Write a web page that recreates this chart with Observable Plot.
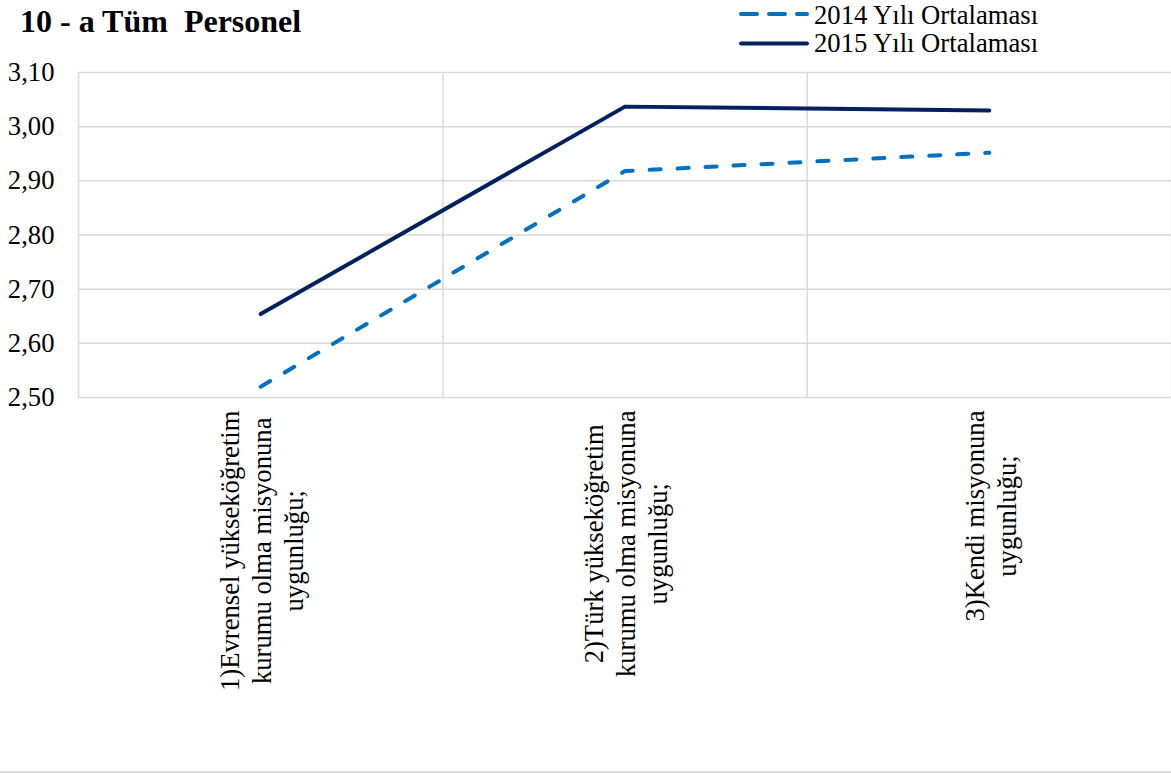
<!DOCTYPE html>
<html><head><meta charset="utf-8">
<script src="https://cdn.jsdelivr.net/npm/d3@7"></script>
<script src="https://cdn.jsdelivr.net/npm/@observablehq/plot@0.6"></script>
<style>
body{margin:0;background:#fff;}
#wrap{position:relative;width:1171px;height:773px;overflow:hidden;font-family:"Liberation Serif","Times New Roman",serif;}
#chart{position:absolute;left:0;top:0;}
#title{position:absolute;left:20px;top:-1px;font-weight:bold;font-size:32px;white-space:pre;line-height:44px;color:#000;}
#legend{position:absolute;left:0;top:0;}
#border{position:absolute;left:0;right:0;top:771px;height:2px;background:#d9d9d9;}
</style></head>
<body><div id="wrap"><div id="chart"></div><div id="title"></div><svg id="legend" width="1171" height="60"></svg><div id="border"></div></div>
<script>
const titleText = "10 - a Tüm  Personel";
const categories = [
  "1)Evrensel yükseköğretim\nkurumu olma misyonuna\nuygunluğu;",
  "2)Türk yükseköğretim\nkurumu olma misyonuna\nuygunluğu;",
  "3)Kendi misyonuna\nuygunluğu;"
];
const series = ["2014 Yılı Ortalaması", "2015 Yılı Ortalaması"];
const values2014 = [2.520, 2.918, 2.952];
const values2015 = [2.654, 3.037, 3.030];
const yTicks = [2.5, 2.6, 2.7, 2.8, 2.9, 3.0, 3.1];
const colors = ["#0070C0", "#002060"];

const fmt = v => d3.format(".2f")(v).replace(".", ",");

const rows = [];
categories.forEach((c, i) => {
  rows.push({i, cat: c, series: series[0], value: values2014[i]});
  rows.push({i, cat: c, series: series[1], value: values2015[i]});
});

const chart = Plot.plot({
  width: 1171, height: 773,
  marginTop: 72, marginBottom: 376, marginLeft: 78, marginRight: 0,
  style: {fontFamily: "'Liberation Serif','Times New Roman',serif", fontSize: "26.67px", color: "#000", background: "transparent", overflow: "visible"},
  x: {domain: [0, categories.length], axis: null},
  y: {domain: [2.5, 3.1], ticks: yTicks, tickFormat: fmt, tickSize: 0, tickPadding: 24, label: null},
  marks: [
    Plot.ruleY(yTicks, {stroke: "#d9d9d9", strokeWidth: 1.5}),
    Plot.ruleX(d3.range(0, categories.length + 1), {stroke: "#d9d9d9", strokeWidth: 1.5}),
    Plot.line(rows.filter(d => d.series === series[0]), {x: d => d.i + 0.5, y: "value", stroke: colors[0], strokeWidth: 4, strokeDasharray: "11 17", strokeLinecap: "round"}),
    Plot.line(rows.filter(d => d.series === series[1]), {x: d => d.i + 0.5, y: "value", stroke: colors[1], strokeWidth: 4, strokeLinecap: "round"}),
    Plot.text(categories.map((c, i) => ({i, label: c})), {x: d => d.i + 0.5, y: () => 2.5, text: "label", rotate: -90, textAnchor: "middle", lineAnchor: "middle", lineHeight: 1.2, fontSize: 26.67, fill: "#000", ariaLabel: "catlabels"})
  ]
});
document.getElementById("chart").append(chart);

// shift rotated category labels so the block's top edge sits just below the axis
chart.querySelectorAll("text").forEach(t => {
  const tr = t.getAttribute("transform");
  if (!tr || !tr.includes("rotate")) return;
  const m = tr.match(/translate\(([-\d.e]+),\s*([-\d.e]+)\)/);
  if (!m) return;
  let maxLen = 0;
  const spans = t.querySelectorAll("tspan");
  if (spans.length) spans.forEach(s => { maxLen = Math.max(maxLen, s.getComputedTextLength()); });
  else maxLen = t.getComputedTextLength();
  const x = +m[1], y = +m[2];
  t.setAttribute("transform", `translate(${x},${y + 13 + maxLen / 2}) rotate(-90)`);
});

document.getElementById("title").textContent = titleText;

// legend
const lg = d3.select("#legend");
const legendRows = [{y: 14, base: 23.5, dash: "16 12"}, {y: 43.5, base: 51.5, dash: null}];
series.forEach((s, k) => {
  const r = legendRows[k];
  const ln = lg.append("line").attr("x1", 741).attr("x2", 807).attr("y1", r.y).attr("y2", r.y)
    .attr("stroke", colors[k]).attr("stroke-width", 4).attr("stroke-linecap", "round");
  if (r.dash) ln.attr("stroke-dasharray", r.dash);
  lg.append("text").attr("x", 814).attr("y", r.base).attr("font-family", "'Liberation Serif','Times New Roman',serif")
    .attr("font-size", 26.67).attr("fill", "#000").text(s);
});
</script>
</body></html>
